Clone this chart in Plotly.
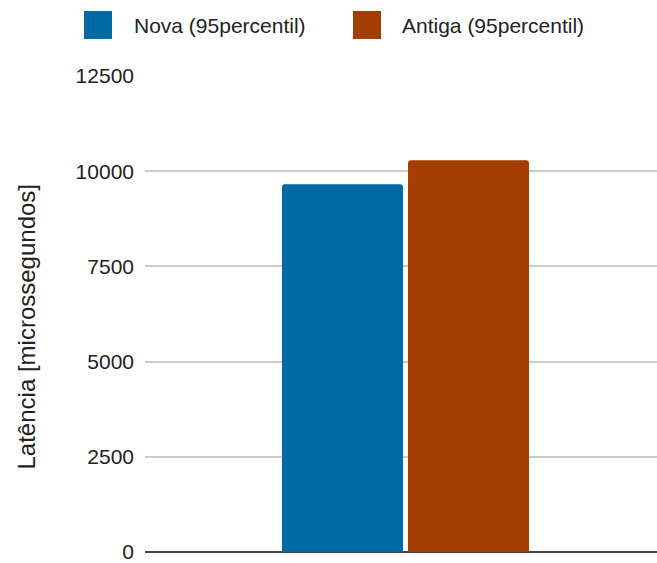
import plotly.graph_objects as go

# Latency at the 95th percentile, in microseconds
series_names = ["Nova (95percentil)", "Antiga (95percentil)"]
series_values = [9660, 10290]
series_colors = ["#0169a3", "#a33d00"]
category = [0]
y_ticks = [0, 2500, 5000, 7500, 10000, 12500]
y_title = "Latência [microssegundos]"

FONT = "Liberation Sans, Arial, sans-serif"

# plot area in pixels (used to place the custom legend / title)
PL, PW, PB, PH = 145, 512, 552, 476


def px_x(x):
    return (x - PL) / PW


def px_y(y):
    return (PB - y) / PH


fig = go.Figure()
for name, val, col in zip(series_names, series_values, series_colors):
    fig.add_trace(go.Bar(
        x=category, y=[val], name=name, marker_color=col,
        marker_line_width=0, showlegend=False,
    ))

# Legend drawn as large swatches with labels above the plot
legend_items = [(84, 132), (353, 400)]
for (sx, tx), name, col in zip(legend_items, series_names, series_colors):
    fig.add_shape(type="rect", xref="paper", yref="paper",
                  x0=px_x(sx), x1=px_x(sx + 28),
                  y0=px_y(39), y1=px_y(11),
                  fillcolor=col, line_width=0)
    fig.add_annotation(text=name, xref="paper", yref="paper",
                       x=px_x(tx), y=px_y(25.5),
                       xanchor="left", yanchor="middle", showarrow=False,
                       font=dict(family=FONT, size=21, color="#222222"))

# Vertical axis title
fig.add_annotation(text=y_title, xref="paper", yref="paper",
                   x=px_x(26), y=px_y(326.5), textangle=-90,
                   xanchor="center", yanchor="middle", showarrow=False,
                   font=dict(family=FONT, size=24, color="#222222"))

fig.update_layout(
    width=657, height=563,
    margin=dict(l=PL, r=0, t=76, b=11),
    paper_bgcolor="white", plot_bgcolor="white",
    barmode="group", bargap=0.496, bargroupgap=0.04,
    barcornerradius=3,
    font=dict(family=FONT, size=21, color="#222222"),
    xaxis=dict(range=[-0.521, 0.503], showticklabels=False, showgrid=False,
               zeroline=False, showline=False, fixedrange=True),
    yaxis=dict(range=[0, 12500], tickvals=y_ticks, ticktext=[str(t) for t in y_ticks],
               showgrid=True, gridcolor="#cccccc", gridwidth=2,
               zeroline=True, zerolinecolor="#444444", zerolinewidth=2,
               ticks="", ticklabelstandoff=10, ticklabeloverflow="allow",
               tickfont=dict(family=FONT, size=21, color="#222222")),
)

fig.write_html("out.html")
